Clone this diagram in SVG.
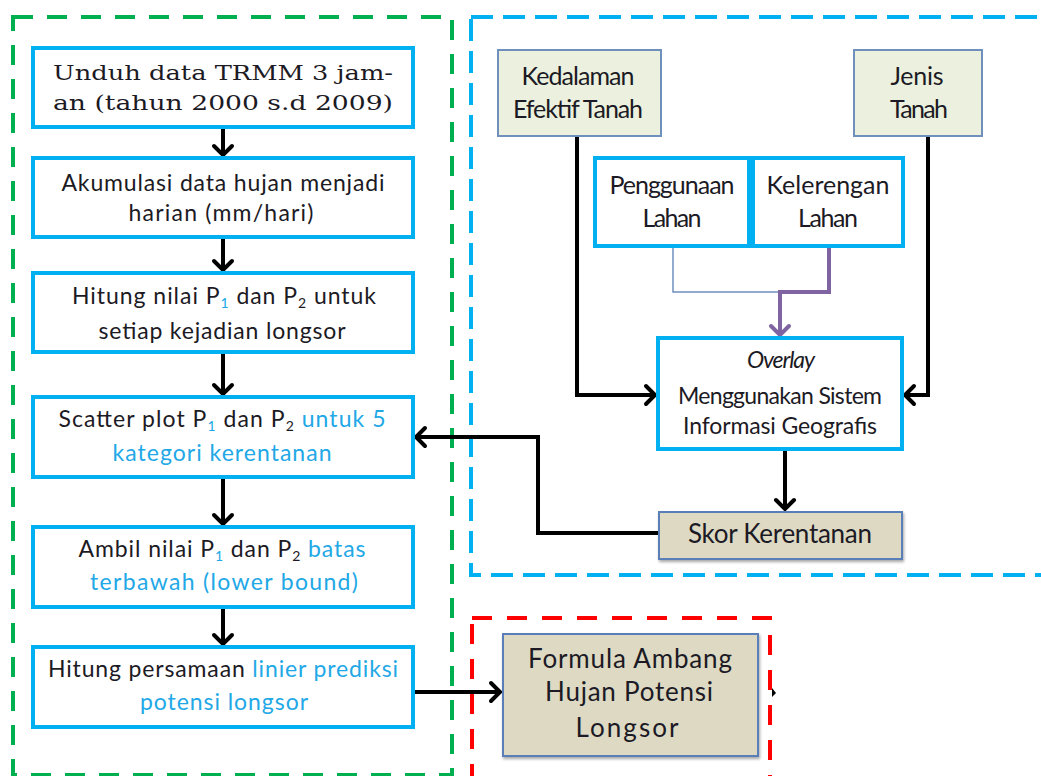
<svg xmlns="http://www.w3.org/2000/svg" width="1041" height="776" viewBox="0 0 1041 776">
<style>
.t{font-family:Lato,"Open Sans","Liberation Sans",sans-serif;font-size:23px;fill:#1c1a24;text-anchor:middle}
.r{font-size:25px}
.b{font-size:26px}
.sr{font-family:"DejaVu Serif","Liberation Serif",serif;font-size:21px;fill:#1c1a24;text-anchor:middle}
.c{fill:#22a8e6}
.sub{font-size:14px}
.cy{fill:#fff;stroke:#00B0F0;stroke-width:4}
.gr{fill:#EBF1DE;stroke:#6f8fbd;stroke-width:2}
.tan{fill:#DDD9C3;stroke:#5a7fb8;stroke-width:2}
.ln{fill:none;stroke:#000;stroke-width:4}
</style>
<defs>
<marker id="a" viewBox="-12 -12 24 24" markerUnits="userSpaceOnUse" markerWidth="24" markerHeight="24" refX="0" refY="0" orient="auto">
<path d="M-9,-9 L0,0 L-9,9" fill="none" stroke="#000" stroke-width="4" stroke-linecap="round" stroke-linejoin="miter"/>
</marker>
<marker id="p" viewBox="-12 -12 24 24" markerUnits="userSpaceOnUse" markerWidth="24" markerHeight="24" refX="0" refY="0" orient="auto">
<path d="M-9,-9 L0,0 L-9,9" fill="none" stroke="#8064A2" stroke-width="4" stroke-linecap="round"/>
</marker>
<filter id="sh" x="-10%" y="-10%" width="120%" height="130%">
<feDropShadow dx="1" dy="2" stdDeviation="1.5" flood-color="#000" flood-opacity="0.35"/>
</filter>
</defs>
<rect width="1041" height="776" fill="#fff"/>
<g id="frames" fill="none">
<rect x="13" y="17" width="439" height="758" stroke="#00B050" stroke-width="4" stroke-dasharray="20 14"/>
<rect x="471" y="17" width="590" height="558" stroke="#00B0F0" stroke-width="4" stroke-dasharray="22 10"/>
<rect x="472" y="618" width="298" height="170" stroke="#FF0000" stroke-width="4" stroke-dasharray="20 15"/>
</g>
<g id="connectors">
<line class="ln" x1="223" y1="129" x2="223" y2="155" marker-end="url(#a)"/>
<line class="ln" x1="223" y1="239" x2="223" y2="270" marker-end="url(#a)"/>
<line class="ln" x1="223" y1="354" x2="223" y2="394" marker-end="url(#a)"/>
<line class="ln" x1="223" y1="479" x2="223" y2="524" marker-end="url(#a)"/>
<line class="ln" x1="223" y1="609" x2="223" y2="644" marker-end="url(#a)"/>
<polyline class="ln" points="659,533 538,533 538,437 416,437" marker-end="url(#a)"/>
<line class="ln" x1="415" y1="692" x2="500" y2="692" marker-end="url(#a)"/>
<polyline class="ln" points="577,137 577,395 655,395" marker-end="url(#a)"/>
<polyline class="ln" points="928,137 928,395 905,395" marker-end="url(#a)"/>
<polyline fill="none" stroke="#6f8fbd" stroke-width="1.5" points="673,248 673,292 780,292"/>
<polyline fill="none" stroke="#8064A2" stroke-width="4" points="829,248 829,292 780,292 780,335" marker-end="url(#p)"/>
<line class="ln" x1="785" y1="451" x2="785" y2="509" marker-end="url(#a)"/>
<path d="M772,688 L776,693 L772,697 Z" fill="#000"/>
</g>
<g id="n1"><rect class="cy" x="33" y="48" width="380" height="79"/>
<text class="sr" x="223" y="80" textLength="340" lengthAdjust="spacingAndGlyphs">Unduh data TRMM 3 jam-</text>
<text class="sr" x="223" y="110" textLength="340" lengthAdjust="spacingAndGlyphs">an (tahun 2000 s.d 2009)</text></g>
<g id="n2"><rect class="cy" x="33" y="158" width="380" height="79"/>
<text class="t" x="223" y="191" textLength="323">Akumulasi data hujan menjadi</text>
<text class="t" x="221" y="221" textLength="185">harian (mm/hari)</text></g>
<g id="n3"><rect class="cy" x="33" y="273" width="380" height="79"/>
<text class="t" x="224" y="304" textLength="304">Hitung nilai P<tspan class="sub c" dy="4">1</tspan><tspan dy="-4"> dan P</tspan><tspan class="sub" dy="4">2</tspan><tspan dy="-4"> untuk</tspan></text>
<text class="t" x="222" y="339" textLength="247">setiap kejadian longsor</text></g>
<g id="n4"><rect class="cy" x="33" y="397" width="380" height="80"/>
<text class="t" x="222" y="427" textLength="327">Scatter plot P<tspan class="sub c" dy="4">1</tspan><tspan dy="-4"> dan P</tspan><tspan class="sub" dy="4">2</tspan><tspan class="c" dy="-4"> untuk 5</tspan></text>
<text class="t c" x="222" y="461" textLength="219">kategori kerentanan</text></g>
<g id="n5"><rect class="cy" x="33" y="527" width="380" height="80"/>
<text class="t" x="222" y="557" textLength="287">Ambil nilai P<tspan class="sub c" dy="4">1</tspan><tspan dy="-4"> dan P</tspan><tspan class="sub" dy="4">2</tspan><tspan class="c" dy="-4"> batas</tspan></text>
<text class="t c" x="224" y="590" textLength="268">terbawah (lower bound)</text></g>
<g id="n6"><rect class="cy" x="33" y="647" width="380" height="80"/>
<text class="t" x="223" y="677" textLength="350">Hitung persamaan <tspan class="c">linier prediksi</tspan></text>
<text class="t c" x="224" y="710" textLength="168">potensi longsor</text></g>
<g id="n7"><rect class="gr" x="498" y="50" width="163" height="86"/>
<text class="t r" x="578" y="85" textLength="113">Kedalaman</text>
<text class="t r" x="578" y="118" textLength="130">Efektif Tanah</text></g>
<g id="n8"><rect class="gr" x="854" y="50" width="128" height="86"/>
<text class="t r" x="917" y="85" textLength="53">Jenis</text>
<text class="t r" x="919" y="118" textLength="58">Tanah</text></g>
<g id="n9"><rect class="cy" x="595" y="158" width="154" height="88"/>
<text class="t r" x="672" y="194" textLength="125">Penggunaan</text>
<text class="t r" x="672" y="227" textLength="59">Lahan</text></g>
<g id="n10"><rect class="cy" x="753" y="158" width="150" height="88"/>
<text class="t r" x="828" y="194" textLength="123">Kelerengan</text>
<text class="t r" x="828" y="227" textLength="60">Lahan</text></g>
<g id="n11"><rect class="cy" x="658" y="338" width="244" height="111"/>
<text class="t" x="781" y="368" font-style="italic" font-size="19" textLength="68">Overlay</text>
<text class="t" x="780" y="404" textLength="204">Menggunakan Sistem</text>
<text class="t" x="780" y="434" textLength="194">Informasi Geografis</text></g>
<g id="n12"><rect class="tan" x="659" y="512" width="243" height="47" filter="url(#sh)"/>
<text class="t b" x="780" y="543" textLength="184">Skor Kerentanan</text></g>
<g id="n13"><rect class="tan" x="503" y="634" width="255" height="122" filter="url(#sh)"/>
<text class="t b" x="630" y="668" textLength="204">Formula Ambang</text>
<text class="t b" x="629" y="701" textLength="168">Hujan Potensi</text>
<text class="t b" x="627" y="737" textLength="103">Longsor</text></g>
</svg>
